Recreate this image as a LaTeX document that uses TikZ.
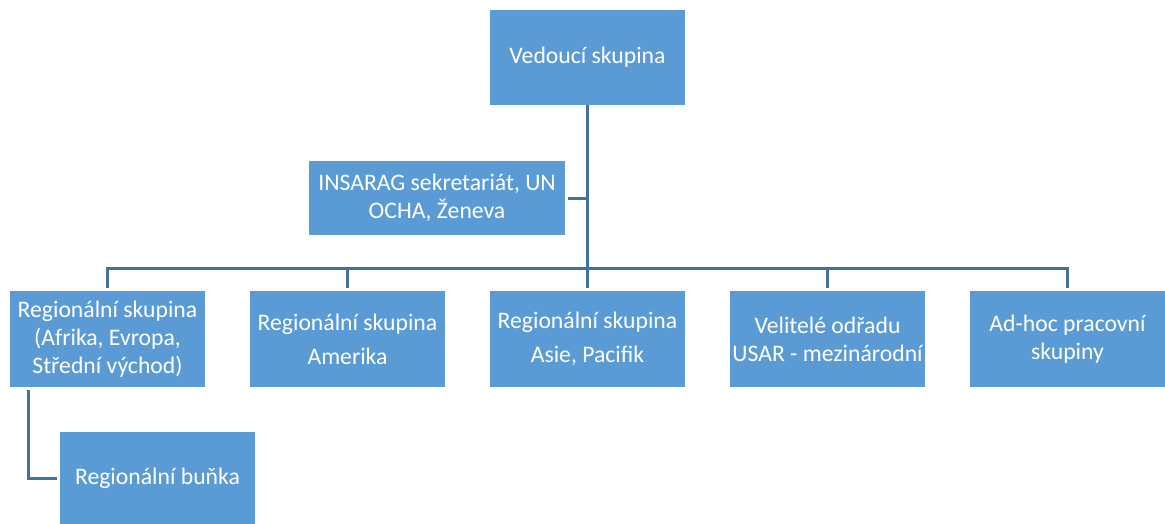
\documentclass[tikz,border=0pt]{standalone}
\usepackage{fontspec}
\setmainfont{Carlito}
\definecolor{boxfill}{RGB}{91,155,213}
\definecolor{linecol}{RGB}{65,113,156}
\tikzset{
  box/.style={fill=boxfill, draw=none, text=white, inner sep=0pt, align=center,
    font=\fontsize{23.7}{28}\selectfont, minimum width=195pt, minimum height=95pt},
  conn/.style={draw=linecol, line width=3pt}
}
\begin{document}
\begin{tikzpicture}[x=1pt,y=-1pt]
\useasboundingbox (0,0) rectangle (1165,524);
\node[box] (top) at (587.5,57.5) {Vedoucí skupina};
\node[box, minimum width=256pt, minimum height=74pt] (insarag) at (437,198) {INSARAG sekretariát, UN\\OCHA, Ženeva};
\node[box, minimum height=96pt] (b1) at (107.5,339) {Regionální skupina\\(Afrika, Evropa,\\Střední východ)};
\node[box, minimum height=96pt] (b2) at (347.5,339) {Regionální skupina\\[6pt]Amerika};
\node[box, minimum height=96pt] (b3) at (587.5,339) {Regionální skupina\\[6pt]Asie, Pacifik};
\node[box, minimum height=96pt] (b4) at (827.5,339) {Velitelé odřadu\\USAR - mezinárodní};
\node[box, minimum height=96pt] (b5) at (1067.5,339) {Ad-hoc pracovní\\skupiny};
\node[box, minimum height=92pt] (cell) at (157.5,478) {Regionální buňka};
\coordinate (hub) at (587.5,268);
\coordinate (c1) at (28,390);
\draw[conn] (top.south) -- (hub);
\draw[conn] ([xshift=3pt]insarag.east) -- (insarag.east -| hub);
\draw[conn] ([yshift=3pt]b1.north) |- (hub);
\draw[conn] ([yshift=3pt]b2.north) |- (hub);
\draw[conn] ([yshift=3pt]b3.north) -- (hub);
\draw[conn] ([yshift=3pt]b4.north) |- (hub);
\draw[conn] ([yshift=3pt]b5.north) |- (hub);
\draw[conn] (c1) |- ([xshift=-3pt]cell.west);
\end{tikzpicture}
\end{document}
